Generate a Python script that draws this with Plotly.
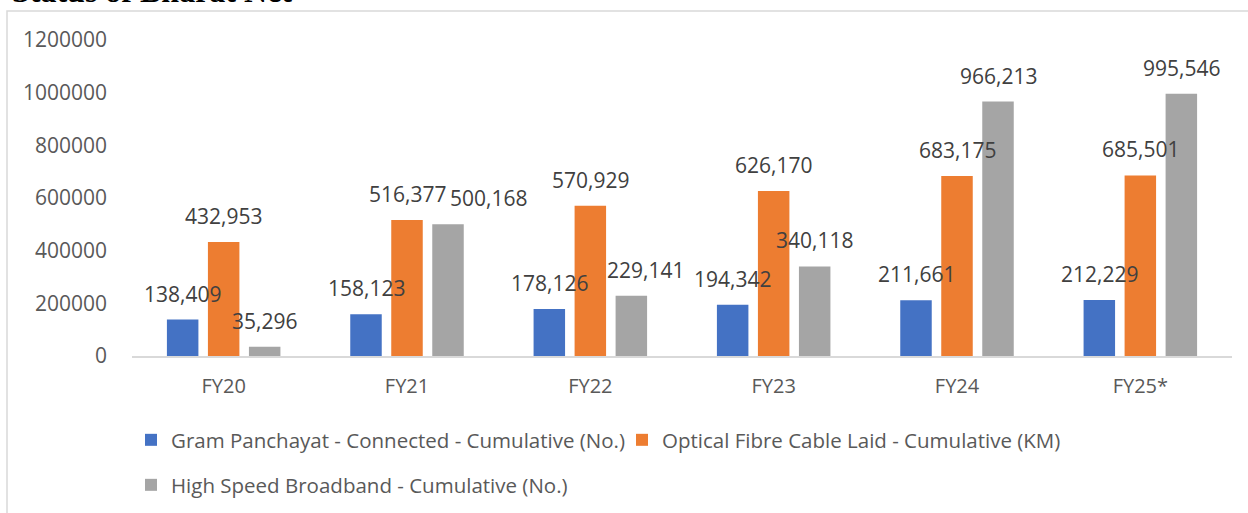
import plotly.graph_objects as go

categories = ["FY20", "FY21", "FY22", "FY23", "FY24", "FY25*"]
gram_panchayat = [138409, 158123, 178126, 194342, 211661, 212229]
ofc_laid = [432953, 516377, 570929, 626170, 683175, 685501]
broadband = [35296, 500168, 229141, 340118, 966213, 995546]
series_names = [
    "Gram Panchayat - Connected - Cumulative (No.)",
    "Optical Fibre Cable Laid - Cumulative (KM)",
    "High Speed Broadband - Cumulative (No.)",
]
colors = ["#4472C4", "#ED7D31", "#A5A5A5"]
y_ticks = [0, 200000, 400000, 600000, 800000, 1000000, 1200000]
title_text = "Status of Bharat Net"

# label nudges (pixels) for labels moved aside in the original, keyed by (category, series index)
label_nudge = {("FY21", 2): 40, ("FY22", 2): 14}

W, H = 1248, 513
ML, MR, MT, MB = 132, 16, 40, 157
PW = W - ML - MR
PH = H - MT - MB


def px_x(px):
    return (px - ML) / PW


def px_y(py):
    return (H - MB - py) / PH


FONT = "Open Sans"
fig = go.Figure()
all_series = [gram_panchayat, ofc_laid, broadband]
legends = ["legend", "legend", "legend2"]
for name, vals, col, lg in zip(series_names, all_series, colors, legends):
    fig.add_trace(go.Bar(
        x=categories, y=vals, name=name, marker=dict(color=col, line=dict(width=0)),
        legend=lg,
    ))

offsets = [-41, 0, 41]
for si, (vals, off) in enumerate(zip(all_series, offsets)):
    for c, v in zip(categories, vals):
        fig.add_annotation(
            x=c, y=v, xref="x", yref="y", text=f"{v:,}", showarrow=False,
            xshift=off + label_nudge.get((c, si), 0), yanchor="bottom", yshift=10,
            font=dict(family=FONT, size=21, color="#404040"),
        )

fig.add_annotation(
    xref="paper", yref="paper", x=px_x(10), y=px_y(11), xanchor="left", yanchor="bottom",
    text=f"<b>{title_text}</b>", showarrow=False,
    font=dict(family="Liberation Serif", size=32, color="#000000"),
)

fig.add_shape(
    type="rect", xref="paper", yref="paper",
    x0=px_x(7), x1=px_x(1260), y0=px_y(530), y1=px_y(11),
    line=dict(color="#d9d9d9", width=1.5), fillcolor="rgba(0,0,0,0)", layer="below",
)

fig.update_layout(
    width=W, height=H,
    margin=dict(l=ML, r=MR, t=MT, b=MB, autoexpand=False),
    paper_bgcolor="white", plot_bgcolor="white",
    barmode="group", bargap=0.329, bargroupgap=0.232,
    font=dict(family=FONT, size=20, color="#595959"),
    showlegend=True,
    legend=dict(orientation="h", x=px_x(131), y=px_y(420), xanchor="left", yanchor="top",
                entrywidth=446,
                font=dict(family=FONT, size=20.5, color="#595959"), bgcolor="rgba(0,0,0,0)"),
    legend2=dict(orientation="h", x=px_x(131), y=px_y(465), xanchor="left", yanchor="top",
                 font=dict(family=FONT, size=20.5, color="#595959"), bgcolor="rgba(0,0,0,0)"),
    xaxis=dict(showline=True, linecolor="#d9d9d9", linewidth=1.5, showgrid=False,
               ticks="", ticklabelstandoff=11, tickfont=dict(family=FONT, size=20, color="#595959"),
               fixedrange=True),
    yaxis=dict(range=[0, 1200000], tickvals=y_ticks, tickformat="d", showgrid=False,
               zeroline=False, showline=False, ticks="", ticklabelstandoff=24,
               tickfont=dict(family=FONT, size=21, color="#595959"), fixedrange=True),
)

fig.write_html(
    "out.html",
    config={"displayModeBar": False},
    post_script="document.body.style.margin='0';document.body.style.overflow='hidden';",
)
